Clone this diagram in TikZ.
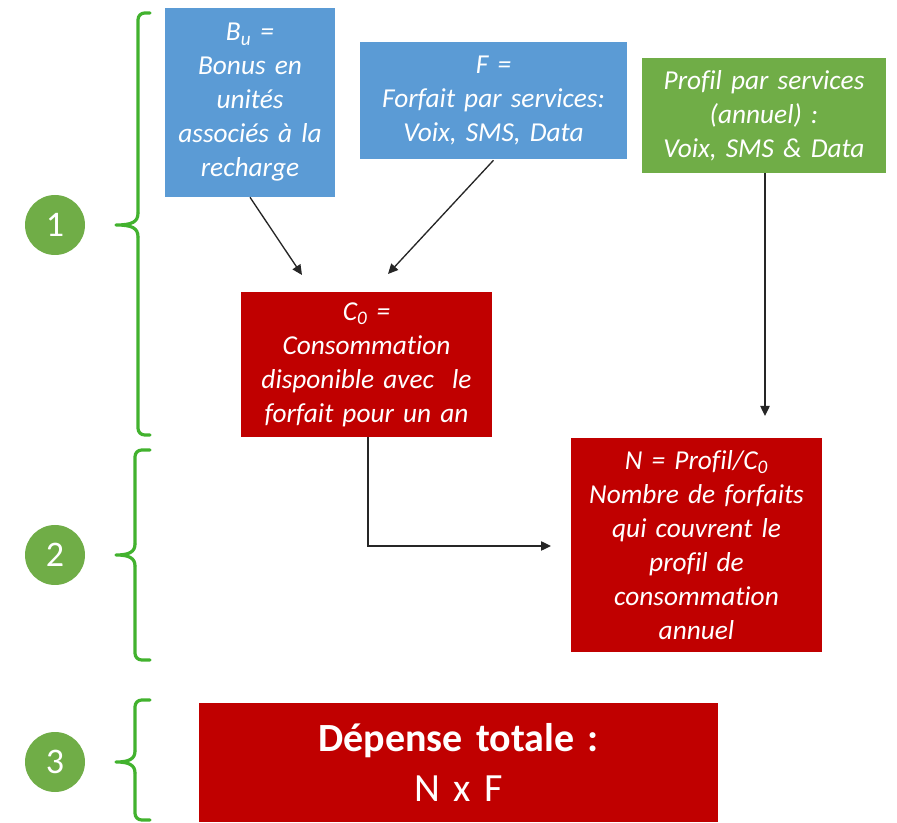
\documentclass[tikz,border=0pt]{standalone}
\usepackage{fontspec}
\setmainfont{Carlito}[Ligatures=NoCommon]
\usetikzlibrary{arrows.meta,calc}
\definecolor{boxblue}{HTML}{5B9BD5}
\definecolor{boxgreen}{HTML}{70AD47}
\definecolor{boxred}{HTML}{C00000}
\definecolor{bracegreen}{HTML}{42B22E}
\definecolor{arrowgray}{HTML}{262626}
\tikzset{
  boxbase/.style={inner sep=0pt, align=center, text=white,
    font=\itshape\fontsize{20.5}{25.5}\selectfont},
  bluebox/.style={boxbase, fill=boxblue},
  greenbox/.style={boxbase, fill=boxgreen},
  redbox/.style={boxbase, fill=boxred},
  arr/.style={draw=arrowgray, line width=1pt, -{Triangle[length=7.5pt,width=7pt]}},
  bracestyle/.style={draw=bracegreen, line width=2.4pt, line cap=round, line join=round},
  stepcircle/.style={circle, fill=boxgreen, minimum size=45pt, inner sep=0pt, text=white,
    font=\fontsize{27}{27}\selectfont}
}
\begin{document}
\begin{tikzpicture}[x=0.75pt,y=-0.75pt]
\useasboundingbox (0,0) rectangle (897,823);

% boxes
\node[bluebox, minimum width=127.5pt, minimum height=141.75pt, text width=126pt] (Bu) at (250,102.5)
  {B\textsubscript{u} =\\Bonus en\\unités\\associés à la\\recharge};
\node[bluebox, minimum width=200.25pt, minimum height=87.75pt, text width=199pt] (F) at (493.5,100.5)
  {F =\\Forfait par services:\\Voix, SMS, Data};
\node[greenbox, minimum width=183pt, minimum height=86.25pt, text width=182pt] (P) at (764,115.5)
  {Profil par services\\(annuel) :\\Voix, SMS \& Data};
\node[redbox, minimum width=188.25pt, minimum height=108.75pt, text width=187pt] (C) at (366.5,364.5)
  {C\textsubscript{0} =\\Consommation\\disponible avec~ le\\forfait pour un an};
\node[redbox, minimum width=188.25pt, minimum height=160.5pt, text width=187pt] (N) at (696.5,545)
  {N = Profil/C\textsubscript{0}\\Nombre de forfaits\\qui couvrent le\\profil de\\consommation\\annuel};
\node[redbox, minimum width=389.25pt, minimum height=89.25pt, text width=385pt,
  font=\fontsize{30}{37.5}\selectfont] (D) at (458.5,762.5)
  {\raisebox{-4pt}{\textbf{Dépense totale :}}\\\raisebox{-4pt}{N x F}};

% arrow end points
\coordinate (a1) at (302,275);
\coordinate (a2) at (388,274);
\coordinate (a3) at (765,416);
\coordinate (a4) at (551,546);

\draw[arr] (Bu.south) -- (a1);
\draw[arr] ($(F.south)+(0,1)$) -- (a2);
\draw[arr] (P.south -| a3) -- (a3);
\draw[arr] (C.south -| 368,0) |- (a4);

% step circles
\node[stepcircle] (s1) at (55,225) {1};
\node[stepcircle] (s2) at (55,555) {2};
\node[stepcircle] (s3) at (55,762) {3};

% braces
\draw[bracestyle, rounded corners=5pt] (150,13) -- (138,13) -- (138,213);
\draw[bracestyle] (138,213) .. controls (138,222) and (132,225) .. (116,225)
  .. controls (132,225) and (138,228) .. (138,237);
\draw[bracestyle, rounded corners=5pt] (138,237) -- (138,435) -- (150,435);

\draw[bracestyle, rounded corners=5pt] (150,450) -- (135,450) -- (135,544);
\draw[bracestyle] (135,544) .. controls (135,552) and (129,555) .. (116,555)
  .. controls (129,555) and (135,558) .. (135,566);
\draw[bracestyle, rounded corners=5pt] (135,566) -- (135,660) -- (150,660);

\draw[bracestyle, rounded corners=5pt] (150,700) -- (135,700) -- (135,751);
\draw[bracestyle] (135,751) .. controls (135,759) and (129,762) .. (116,762)
  .. controls (129,762) and (135,765) .. (135,773);
\draw[bracestyle, rounded corners=5pt] (135,773) -- (135,820) -- (150,820);
\end{tikzpicture}
\end{document}
